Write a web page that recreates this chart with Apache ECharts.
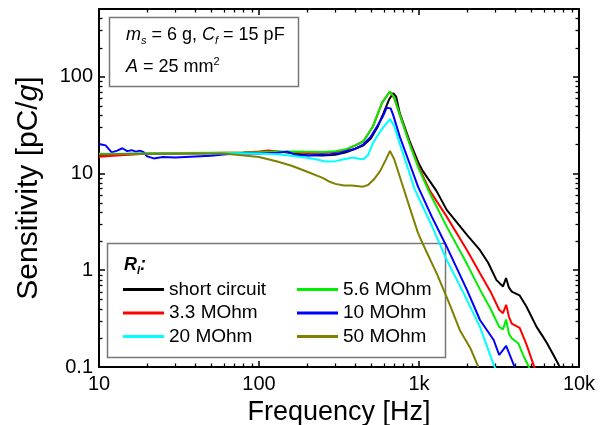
<!DOCTYPE html>
<html>
<head>
<meta charset="utf-8">
<script src="https://cdn.jsdelivr.net/npm/echarts@6/dist/echarts.min.js"></script>
<style>
html,body{margin:0;padding:0;background:#fff;}
#c{width:613px;height:425px;}
</style>
</head>
<body>
<div id="c"></div>
<script>
// ---------- data (frequency in Hz, sensitivity in pC/g) ----------
const seriesNames = ['short circuit', '3.3 MOhm', '5.6 MOhm', '10 MOhm', '20 MOhm', '50 MOhm'];
const seriesColors = ['#000000', '#ff0000', '#00ee00', '#0000ff', '#00ffff', '#808000'];

const freqShort = [10,15,20,30,50,80,110,130,160,200,250,300,350,400,450,500,550,600,650,690,720,758,870,1000,1060,1285,1490,2000,2400,2700,3050,3350,3500,3650,3800,4250,4700,5430,5950,6300,7200,7700];
const sensShort = [15.5,15.8,16.0,16.1,16.2,16.4,16.7,16.9,16.3,15.4,15.3,15.6,16.5,18.0,19.5,23.0,30.0,42.0,58.0,67.6,62.0,42.0,22.0,12.5,10.5,6.6,4.2,2.3,1.62,1.2,0.79,0.68,0.83,0.66,0.6,0.55,0.42,0.26,0.206,0.177,0.118,0.095];

const freq33 = [10,13,16,20,30,50,80,100,115,130,160,200,250,300,350,400,450,515,587,658,700,760,870,1000,1170,1490,2000,2405,2800,3170,3350,3505,3650,3800,4260,4700,5200,5400];
const sens33 = [14.9,15.3,15.7,16.0,16.2,16.3,16.5,16.9,17.3,16.8,16.6,16.3,16.4,16.7,17.5,19.5,21.5,30.5,53.5,70.3,60.0,40.0,21.0,11.5,6.6,3.58,1.6,0.93,0.6,0.39,0.36,0.44,0.33,0.28,0.254,0.17,0.105,0.088];

const freq56 = [10,15,20,30,50,80,100,130,160,200,250,300,350,400,447,515,587,658,700,760,870,1000,1170,1490,2000,2405,2800,3170,3350,3505,3650,3800,4170,4500,4800,4950];
const sens56 = [15.8,16.0,16.2,16.3,16.4,16.5,16.6,16.8,16.9,16.8,16.7,17.0,17.8,19.5,21.3,30.5,53.5,70.3,61.0,40.0,20.5,11.0,6.2,2.82,1.15,0.63,0.4,0.26,0.245,0.31,0.22,0.198,0.176,0.13,0.105,0.092];

const freq10 = [10,11,12,13,14,15,16,17,18,19,20,22,25,30,40,50,60,70,85,100,130,150,170,200,250,280,320,350,400,450,500,550,600,627,665,690,758,870,986,1200,1490,2000,2405,2930,3170,3505,3960];
const sens10 = [20.1,19.5,16.5,17.2,18.2,17.0,17.4,16.8,17.2,16.6,15.0,14.3,14.8,14.6,15.0,15.2,15.7,16.0,16.2,16.1,16.4,16.8,15.5,15.3,15.7,15.8,16.3,17.0,18.0,20.0,24.0,31.0,40.0,47.7,47.0,40.0,24.0,12.9,7.3,3.6,1.75,0.62,0.306,0.19,0.133,0.165,0.1];

const freq20 = [10,20,40,70,100,130,160,200,230,260,300,334,386,420,450,480,515,580,658,700,760,850,935,1200,1490,1900,2405,2930,3050];
const sens20 = [16.0,16.1,16.2,16.2,16.1,15.8,15.2,14.5,13.9,13.3,13.4,13.9,14.6,14.2,14.0,15.5,20.6,28.0,36.4,31.0,20.0,11.5,7.0,2.9,1.28,0.58,0.26,0.105,0.092];

const freq50 = [10,20,40,60,75,100,130,160,200,250,277,300,340,380,447,480,520,570,620,658,700,780,880,985,1050,1300,1550,1800,2100,2350];
const sens50 = [15.8,16.0,16.2,16.1,15.5,14.8,13.3,12.0,10.4,9.0,8.2,7.8,7.5,7.5,7.3,7.6,8.6,10.5,13.8,17.1,14.0,8.0,4.3,2.43,1.91,0.9,0.45,0.24,0.155,0.1];

const allFreq = [freqShort, freq33, freq56, freq10, freq20, freq50];
const allSens = [sensShort, sens33, sens56, sens10, sens20, sens50];

const xMin = 10, xMax = 10000, yMin = 0.1, yMax = 500;
const xMajor = [10, 100, 1000, 10000];
const xLabels = ['10', '100', '1k', '10k'];
const yMajor = [0.1, 1, 10, 100];
const yLabels = ['0.1', '1', '10', '100'];

const legendCol1 = ['short circuit', '3.3 MOhm', '20 MOhm'];
const legendCol2 = ['5.6 MOhm', '10 MOhm', '50 MOhm'];

// ---------- chart ----------
const FONT = 'Liberation Sans, Arial, sans-serif';
const chart = echarts.init(document.getElementById('c'), null, {renderer: 'canvas'});

function nearest(v, arr) {
  let best = 0;
  for (let i = 1; i < arr.length; i++) {
    if (Math.abs(Math.log10(arr[i]) - Math.log10(v)) < Math.abs(Math.log10(arr[best]) - Math.log10(v))) best = i;
  }
  return Math.abs(Math.log10(arr[best]) - Math.log10(v)) < 1e-6 ? best : -1;
}

const axisCommon = {
  type: 'log',
  logBase: 10,
  axisLine: {show: true, onZero: false, lineStyle: {color: '#000', width: 2}},
  axisTick: {show: true, inside: true, length: 6, lineStyle: {color: '#000', width: 1.5}},
  splitLine: {show: false},
  minorTick: {show: false}
};

const series = seriesNames.map((name, k) => ({
  name: name,
  type: 'line',
  showSymbol: false,
  symbol: 'none',
  smooth: false,
  animation: false,
  lineStyle: {color: seriesColors[k], width: 2},
  itemStyle: {color: seriesColors[k]},
  data: allFreq[k].map((f, i) => [f, allSens[k][i]]),
  z: 2 + k
}));

const legendCommon = {
  orient: 'vertical',
  top: 280,
  itemWidth: 41,
  itemHeight: 3,
  itemGap: 4.5,
  icon: 'rect',
  selectedMode: false,
  padding: 0,
  textStyle: {fontSize: 19, color: '#000', fontFamily: FONT}
};

const option = {
  animation: false,
  backgroundColor: '#fff',
  grid: {left: 99, right: 34, top: 9, bottom: 58, containLabel: false, outerBoundsMode: 'none'},
  xAxis: [
    Object.assign({}, axisCommon, {
      min: xMin, max: xMax, position: 'bottom',
      name: 'Frequency [Hz]', nameLocation: 'middle', nameGap: 27,
      nameTextStyle: {fontSize: 27, color: '#000', fontFamily: FONT},
      axisLabel: {show: true, color: '#000', fontSize: 20, fontFamily: FONT, margin: 7,
        formatter: v => { const i = nearest(v, xMajor); return i >= 0 ? xLabels[i] : ''; }}
    }),
    Object.assign({}, axisCommon, {
      min: xMin, max: xMax, position: 'top', axisLabel: {show: false}
    })
  ],
  yAxis: [
    Object.assign({}, axisCommon, {
      min: yMin, max: yMax, position: 'left',
      name: 'Sensitivity [pC/{g|g}]', nameLocation: 'middle', nameGap: 55, nameRotate: 90,
      nameTextStyle: {fontSize: 30, color: '#000', fontFamily: FONT,
        rich: {g: {fontSize: 30, fontStyle: 'italic', color: '#000', fontFamily: FONT}}},
      axisLabel: {show: true, color: '#000', fontSize: 20, fontFamily: FONT, margin: 6,
        showMaxLabel: false,
        formatter: v => { const i = nearest(v, yMajor); return i >= 0 ? yLabels[i] : ''; }}
    }),
    Object.assign({}, axisCommon, {
      min: yMin, max: yMax, position: 'right', axisLabel: {show: false}
    })
  ],
  legend: [
    Object.assign({}, legendCommon, {left: 123, data: legendCol1}),
    Object.assign({}, legendCommon, {left: 297, data: legendCol2})
  ],
  series: series
};
chart.setOption(option);

// minor ticks (2..9 in each decade) on all four sides, positioned through the axes
function minorValues(lo, hi) {
  const out = [];
  for (let e = Math.floor(Math.log10(lo)); e <= Math.ceil(Math.log10(hi)); e++) {
    for (let m = 2; m <= 9; m++) {
      const v = m * Math.pow(10, e);
      if (v > lo * 1.0001 && v < hi * 0.9999) out.push(v);
    }
  }
  return out;
}
const g = [];
const L = chart.convertToPixel({xAxisIndex: 0}, xMin);
const R = chart.convertToPixel({xAxisIndex: 0}, xMax);
const B = chart.convertToPixel({yAxisIndex: 0}, yMin);
const T = chart.convertToPixel({yAxisIndex: 0}, yMax);
const mLen = 3.5;
const tickStyle = {stroke: '#000', lineWidth: 1.3};
minorValues(xMin, xMax).forEach(v => {
  const x = Math.round(chart.convertToPixel({xAxisIndex: 0}, v)) + 0.5;
  g.push({type: 'line', silent: true, shape: {x1: x, y1: B, x2: x, y2: B - mLen}, style: tickStyle});
  g.push({type: 'line', silent: true, shape: {x1: x, y1: T, x2: x, y2: T + mLen}, style: tickStyle});
});
minorValues(yMin, yMax).forEach(v => {
  const y = Math.round(chart.convertToPixel({yAxisIndex: 0}, v)) + 0.5;
  g.push({type: 'line', silent: true, shape: {x1: L, y1: y, x2: L + mLen, y2: y}, style: tickStyle});
  g.push({type: 'line', silent: true, shape: {x1: R, y1: y, x2: R - mLen, y2: y}, style: tickStyle});
});

// annotation box (top-left)
g.push({type: 'rect', silent: true, z: 10, shape: {x: 109.5, y: 17.5, width: 189, height: 69},
  style: {fill: '#fff', stroke: '#777', lineWidth: 1.5}});
const richBox = {
  i: {fontSize: 18, fontStyle: 'italic', fontFamily: FONT, fill: '#000'},
  n: {fontSize: 18, fontFamily: FONT, fill: '#000'},
  sub: {fontSize: 11, fontStyle: 'italic', fontFamily: FONT, fill: '#000', padding: [11, 0, 0, 0]},
  sup: {fontSize: 11, fontFamily: FONT, fill: '#000', padding: [0, 0, 11, 0]}
};
g.push({type: 'text', silent: true, z: 11, x: 126, y: 35,
  style: {text: '{i|m}{sub|s}{n| = 6 g, }{i|C}{sub|f}{n| = 15 pF}', rich: richBox, verticalAlign: 'middle', align: 'left'}});
g.push({type: 'text', silent: true, z: 11, x: 126, y: 67,
  style: {text: '{i|A}{n| = 25 mm}{sup|2}', rich: richBox, verticalAlign: 'middle', align: 'left'}});

// legend box with title
g.push({type: 'rect', silent: true, z: 0, shape: {x: 107.5, y: 243.5, width: 338, height: 114},
  style: {fill: '#fff', stroke: '#777', lineWidth: 1.5}});
g.push({type: 'text', silent: true, z: 11, x: 124, y: 265,
  style: {text: '{b|R}{s|l}{b|:}', verticalAlign: 'middle', align: 'left',
    rich: {
      b: {fontSize: 18, fontStyle: 'italic', fontWeight: 'bold', fontFamily: FONT, fill: '#000'},
      s: {fontSize: 11, fontStyle: 'italic', fontWeight: 'bold', fontFamily: FONT, fill: '#000', padding: [11, 0, 0, 0]}
    }}});

chart.setOption({graphic: {elements: g}});
</script>
</body>
</html>
